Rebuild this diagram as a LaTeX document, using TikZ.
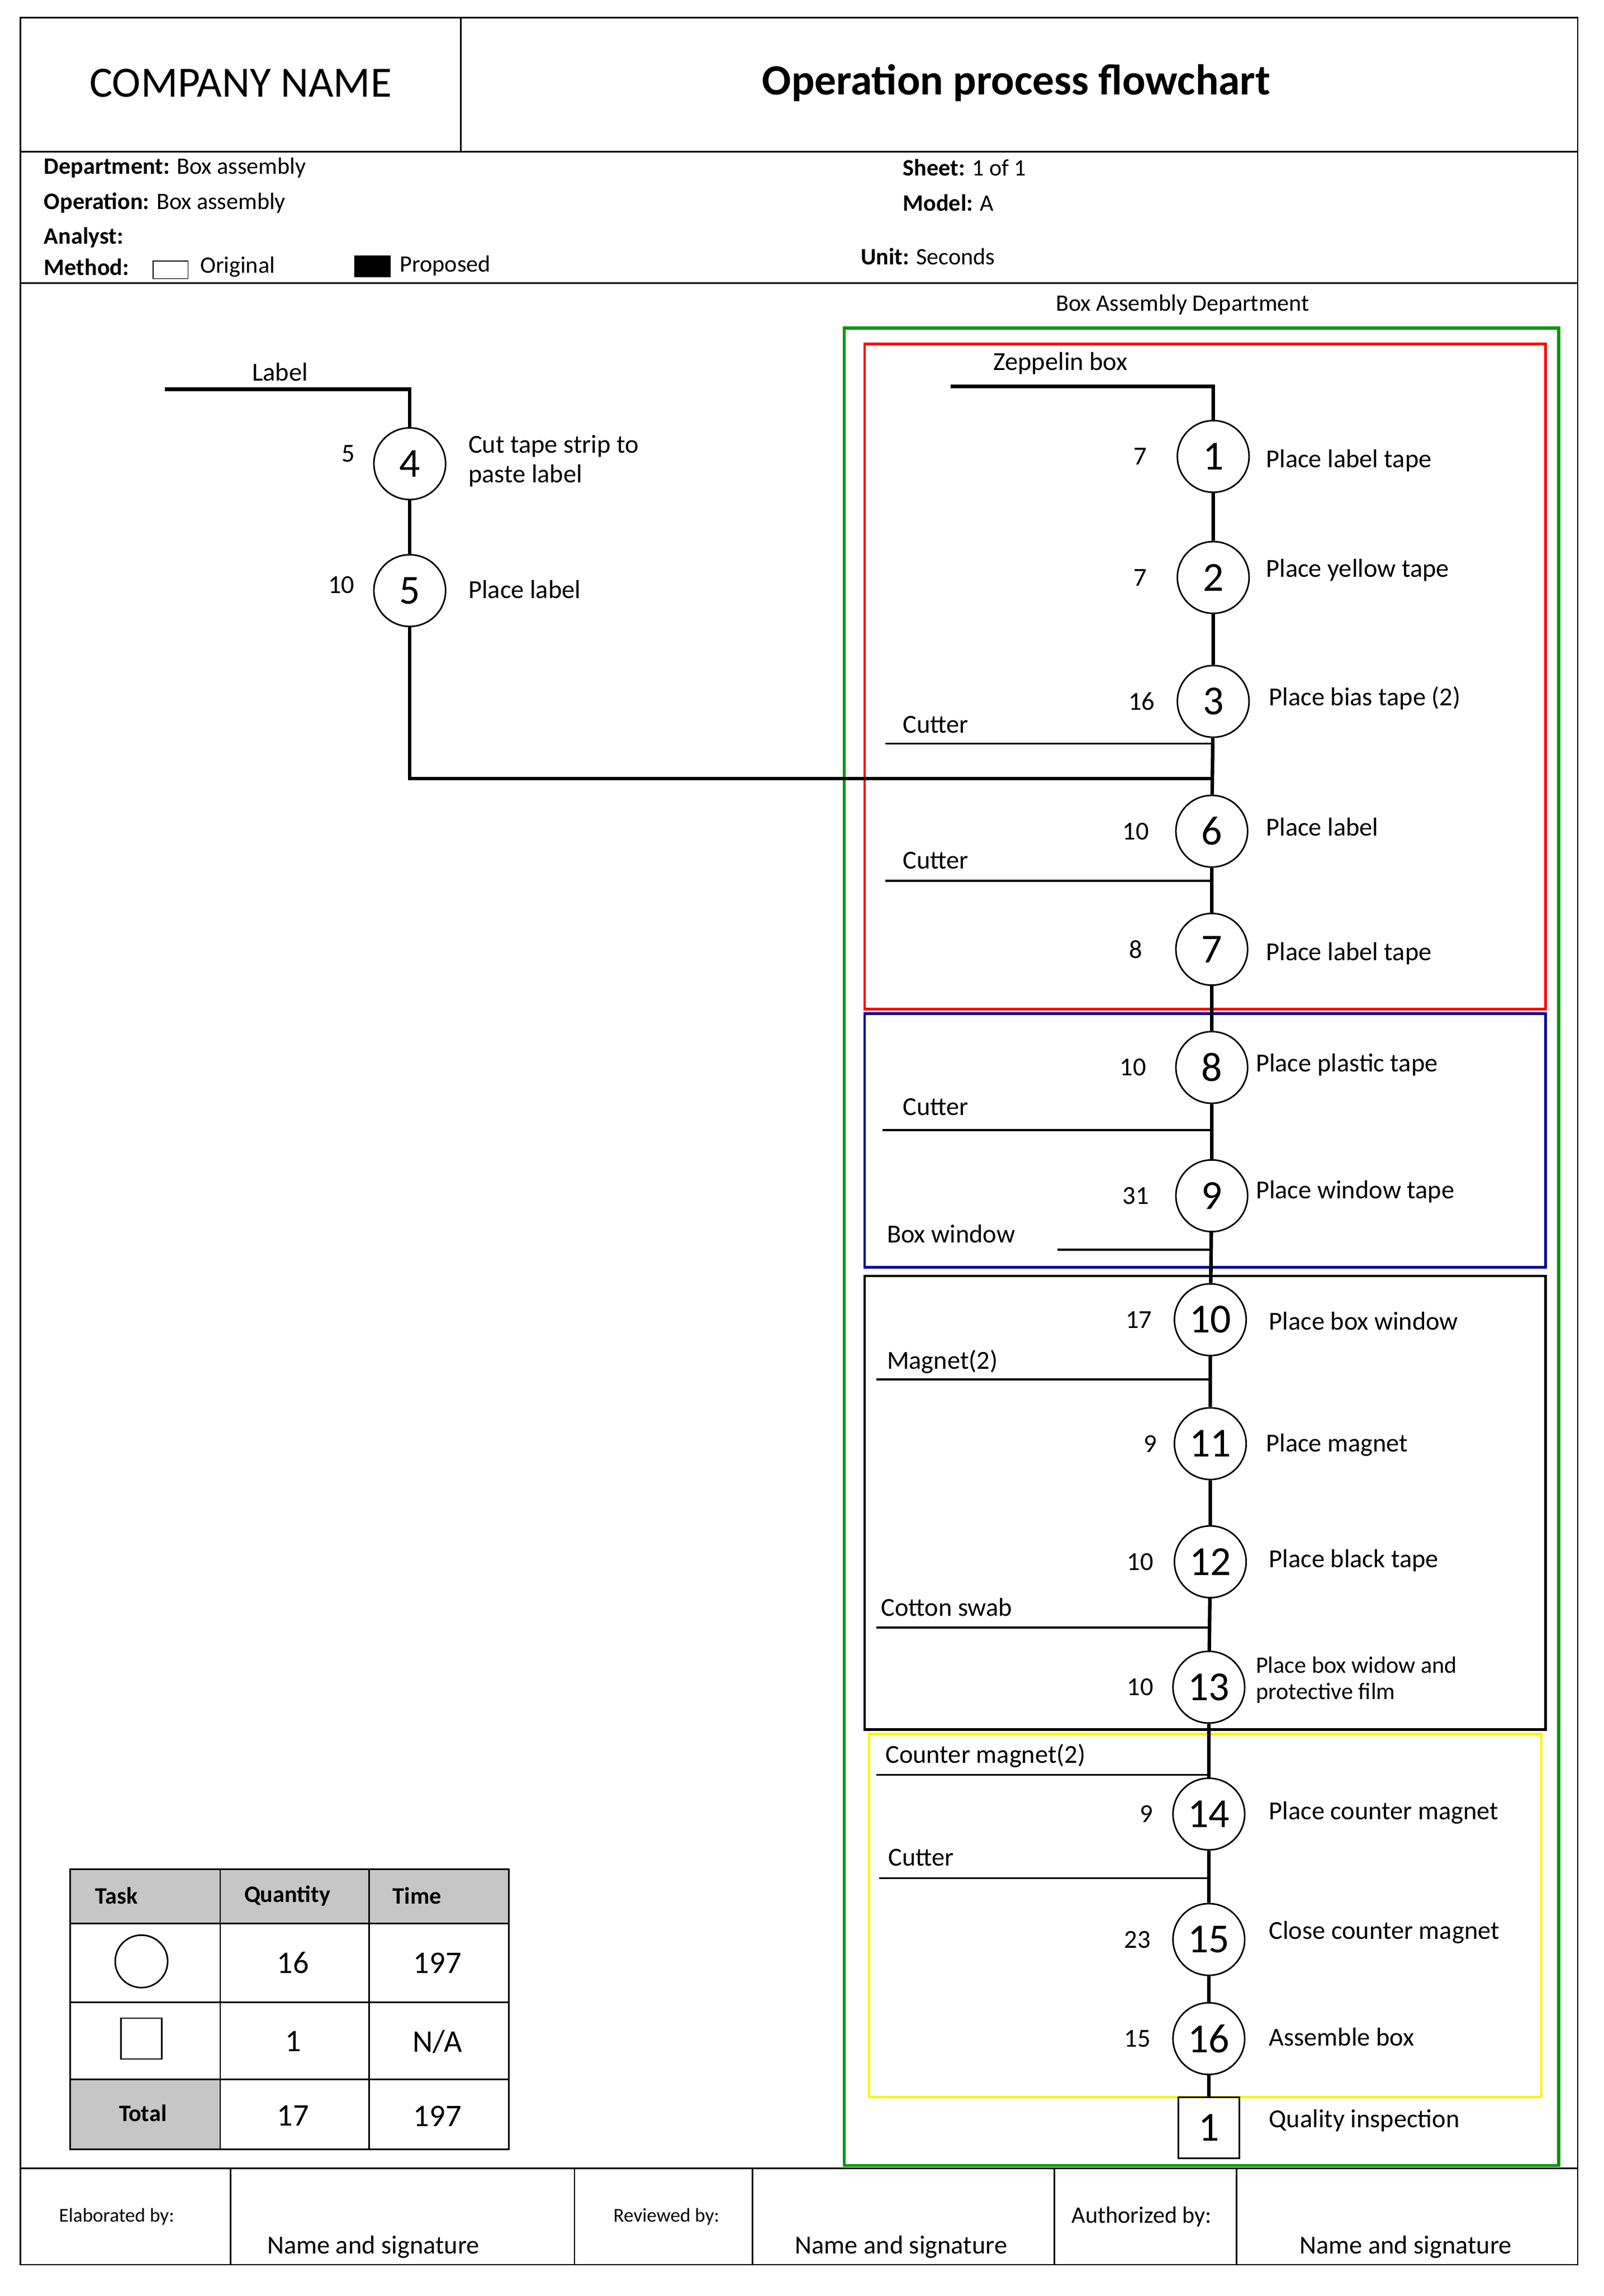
\documentclass[tikz,border=0pt]{standalone}
\usepackage{fontspec}
\setmainfont{Carlito}
\begin{document}
\begin{tikzpicture}[x=0.02609cm,y=-0.02609cm,
  txt/.style={font=\fontsize{13.2}{15}\selectfont,inner sep=0},
  lt/.style={txt,anchor=west},
  sm/.style={font=\fontsize{12}{13}\selectfont,inner sep=0,anchor=west},
  op/.style={circle,draw,thick,minimum size=36.5pt,inner sep=0,font=\fontsize{21}{22}\selectfont},
  main/.style={line width=1.8pt},
  mat/.style={line width=1pt}]
\useasboundingbox (0,0) rectangle (1100,1574.5);
% frame
\draw[thick] (14,12) rectangle (1082,1553);
\draw[thick] (14,104) -- (1082,104) (14,194) -- (1082,194) (316,12) -- (316,104);
\node[inner sep=0,font=\fontsize{22}{24}\selectfont] (cn) at (165,57) {COMPANY NAME};
\node[inner sep=0,font=\fontsize{22}{24}\selectfont\bfseries] (tt) at (697,57) {Operation process flowchart};
\node[sm] (d1) at (30,115) {\textbf{Department:} Box assembly};
\node[sm] (d2) at (30,139) {\textbf{Operation:} Box assembly};
\node[sm] (d3) at (30,163) {\textbf{Analyst:}};
\node[sm] (d4) at (30,183) {\textbf{Method:}};
\draw (105,179) rectangle (129,191);
\node[sm] (d5) at (137,183) {Original};
\fill (243,175) rectangle (268,190);
\node[sm] (d6) at (274,182) {Proposed};
\node[sm] (s1) at (619,115) {\textbf{Sheet:} 1 of 1};
\node[sm] (s2) at (619,139) {\textbf{Model:} A};
\node[sm] (s3) at (590,176) {\textbf{Unit:} Seconds};
% footer
\draw[thick] (14,1487) -- (1082,1487);
\foreach \x in {158,394,516,723,848} \draw[thick] (\x,1487) -- (\x,1553);
\node[inner sep=0,font=\fontsize{10}{12}\selectfont] (e1) at (80,1520) {Elaborated by:};
\node[inner sep=0,font=\fontsize{10}{12}\selectfont] (e2) at (457,1520) {Reviewed by:};
\node[inner sep=0,font=\fontsize{12}{13}\selectfont] (e3) at (783,1520) {Authorized by:};
\node[txt] (n1) at (256,1541) {Name and signature};
\node[txt] (n2) at (618,1541) {Name and signature};
\node[txt] (n3) at (964,1541) {Name and signature};
% dept boxes
\node[sm,anchor=center] (bad) at (811,209) {Box Assembly Department};
\draw[line width=1.6pt,green!60!black] (579,225) rectangle (1069,1485);
\draw[line width=1.3pt,red] (593,236) rectangle (1060,692);
\draw[line width=1.3pt,blue!60!black] (593,695) rectangle (1060,869);
\draw[line width=1.3pt,black] (593,875) rectangle (1060,1186);
\draw[line width=1.3pt,yellow] (596,1189) rectangle (1057,1438);
% main line
\coordinate (z0) at (652,265);
\coordinate (z1) at (832,265);
\node[lt] (zl) at (681,249) {Zeppelin box};
\node[op] (c1) at (832,313) {1};
\node[op] (c2) at (832,396) {2};
\node[op] (c3) at (832,481) {3};
\node[op] (c6) at (831,570) {6};
\node[op] (c7) at (831,651) {7};
\node[op] (c8) at (831,732) {8};
\node[op] (c9) at (831,820) {9};
\node[op] (c10) at (830,905) {10};
\node[op] (c11) at (830,990) {11};
\node[op] (c12) at (830,1071) {12};
\node[op] (c13) at (829,1157) {13};
\node[op] (c14) at (829,1244) {14};
\node[op] (c15) at (829,1330) {15};
\node[op] (c16) at (829,1398) {16};
\node[draw,thick,minimum size=31pt,inner sep=0,font=\fontsize{21}{22}\selectfont] (q1) at (829,1459) {1};
\draw[main] (z0) -- (z1) -- (c1) -- (c2) -- (c3) -- (c6) -- (c7) -- (c8) -- (c9) -- (c10) -- (c11) -- (c12) -- (c13) -- (c14) -- (c15) -- (c16) -- (q1);
% times
\foreach \n/\t/\x in {c1/7/782,c2/7/782,c3/16/783,c6/10/779,c7/8/779,c8/10/777,c9/31/779,c10/17/781,c11/9/789,c12/10/782,c13/10/782,c14/9/786,c15/23/780,c16/15/780}
  {\coordinate (tx) at (\x,0); \node[txt] at (tx |- \n) {\t};}
% labels
\node[lt] (l1) at (868,316) {Place label tape};
\node[lt] (l2) at (868,391) {Place yellow tape};
\node[lt] (l3) at (870,479) {Place bias tape (2)};
\node[lt] (l6) at (868,567) {Place label};
\node[lt] (l7) at (868,654) {Place label tape};
\node[lt] (l8) at (861,730) {Place plastic tape};
\node[lt] (l9) at (861,817) {Place window tape};
\node[lt] (l10) at (870,906) {Place box window};
\node[lt] (l11) at (868,991) {Place magnet};
\node[lt] (l12) at (870,1070) {Place black tape};
\node[lt,font=\fontsize{12}{13.5}\selectfont,align=left,anchor=west] (l13) at (861,1152) {Place box widow and\\protective film};
\node[lt] (l14) at (870,1243) {Place counter magnet};
\node[lt] (l15) at (870,1325) {Close counter magnet};
\node[lt] (l16) at (870,1397) {Assemble box};
\node[lt] (lq) at (870,1454) {Quality inspection};
% materials
\coordinate (m1) at (607,510); \coordinate (m1e) at (832,510);
\draw[mat] (m1) -- (m1e); \node[lt] (m1l) at (619,497) {Cutter};
\coordinate (m2) at (607,604); \coordinate (m2e) at (831,604);
\draw[mat] (m2) -- (m2e); \node[lt] (m2l) at (619,590) {Cutter};
\coordinate (m3) at (605,775); \coordinate (m3e) at (831,775);
\draw[mat] (m3) -- (m3e); \node[lt] (m3l) at (619,759) {Cutter};
\coordinate (m4) at (725,857); \coordinate (m4e) at (831,857);
\draw[mat] (m4) -- (m4e); \node[lt] (m4l) at (608,846) {Box window};
\coordinate (m5) at (601,946); \coordinate (m5e) at (830,946);
\draw[mat] (m5) -- (m5e); \node[lt] (m5l) at (608,934) {Magnet(2)};
\coordinate (m6) at (601,1116); \coordinate (m6e) at (829,1116);
\draw[mat] (m6) -- (m6e); \node[lt] (m6l) at (604,1102) {Cotton swab};
\coordinate (m7) at (601,1217); \coordinate (m7e) at (829,1217);
\draw[mat] (m7) -- (m7e); \node[lt] (m7l) at (607,1204) {Counter magnet(2)};
\coordinate (m8) at (603,1288); \coordinate (m8e) at (829,1288);
\draw[mat] (m8) -- (m8e); \node[lt] (m8l) at (609,1274) {Cutter};
% left branch
\coordinate (b0) at (113,267); \coordinate (b1) at (281,267);
\node[txt] (bl) at (192,255) {Label};
\node[op] (c4) at (281,318) {4};
\node[op] (c5) at (281,405) {5};
\coordinate (b2) at (281,534); \coordinate (b3) at (832,534);
\draw[main] (b0) -- (b1) -- (c4) -- (c5) -- (b2) -- (b3);
\node[txt] at (239,311) {5};
\node[txt] at (234,401) {10};
\node[lt,align=left] (l4) at (321,316) {Cut tape strip to\\paste label};
\node[lt] (l5) at (321,404) {Place label};
% table
\fill[gray!45] (48,1282) rectangle (349,1319);
\fill[gray!45] (48,1426) rectangle (151,1474);
\draw[thick] (48,1282) rectangle (349,1474);
\foreach \x in {151,253} \draw[thick] (\x,1282) -- (\x,1474);
\foreach \y in {1319,1373,1426} \draw[thick] (48,\y) -- (349,\y);
\node[sm,anchor=center,font=\fontsize{12}{13}\selectfont\bfseries] at (80,1300) {Task};
\node[sm,anchor=center,font=\fontsize{12}{13}\selectfont\bfseries] at (197,1300) {Quantity};
\node[sm,anchor=center,font=\fontsize{12}{13}\selectfont\bfseries] at (286,1300) {Time};
\node[sm,anchor=center,font=\fontsize{12}{13}\selectfont\bfseries] at (98,1449) {Total};
\draw[thick] (97,1345) circle (18);
\draw[thick] (83,1384) rectangle (111,1412);
\foreach \x/\y/\t in {201/1346/16,300/1346/197,201/1400/1,300/1400/{N/A},201/1451/17,300/1451/197}
  \node[inner sep=0,font=\fontsize{16}{18}\selectfont] at (\x,\y) {\t};
\end{tikzpicture}
\end{document}
